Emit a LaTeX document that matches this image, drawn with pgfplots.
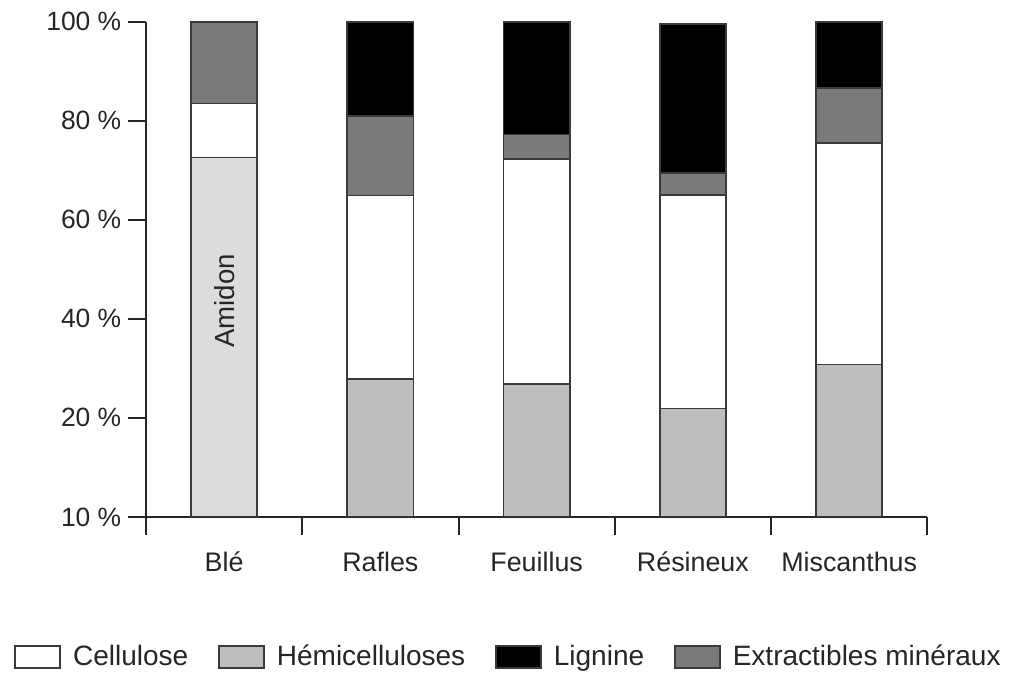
\documentclass[border=0pt]{standalone}
\usepackage{pgfplots}
\pgfplotsset{compat=1.18}
\usepackage{fontspec}
\setmainfont{Liberation Sans}
\definecolor{hemi}{HTML}{BEBEBE}
\definecolor{amidon}{HTML}{DCDCDC}
\definecolor{extr}{HTML}{7A7A7A}
\definecolor{edge}{HTML}{3A3A3A}
\pgfplotsset{boxlegend/.style={legend image code/.code={\draw[##1] (0pt,-5.5pt) rectangle (23pt,5.5pt);}}}
\begin{document}
\begin{tikzpicture}
\begin{axis}[
  name=ax,
  scale only axis, width=396pt, height=251pt,
  xmin=-0.5, xmax=4.5, ymin=0, ymax=100,
  ybar stacked, bar width=33.5pt,
  axis x line*=bottom, axis y line*=left,
  axis line style={line width=1pt, color=black!85},
  tick align=outside, major tick length=9pt,
  tick style={line width=1pt, color=black!85},
  xtick={-0.5,0.5,1.5,2.5,3.5,4.5},
  xticklabels={Blé,Rafles,Feuillus,Résineux,Miscanthus,{}},
  xticklabel style={xshift=39.6pt, yshift=-4pt, text height=11pt, text depth=3pt,
    font=\fontsize{13.6}{15}\selectfont, text=black!85},
  ytick={0,20,40,60,80,100},
  yticklabels={10 \%,20 \%,40 \%,60 \%,80 \%,100 \%},
  yticklabel style={font=\fontsize{13.4}{15}\selectfont, text=black!85},
  legend style={at={(0.465,-0.283)}, anchor=center, draw=none, fill=none,
    legend columns=4, font=\fontsize{14.2}{16}\selectfont, text=black!85,
    /tikz/every odd column/.append style={column sep=4pt},
    /tikz/every even column/.append style={column sep=13pt}},
  legend cell align=left,
]
\addplot[fill=amidon, draw=edge, line width=0.9pt, forget plot] coordinates {(0,72.6) (1,0) (2,0) (3,0) (4,0)};
\addplot[fill=hemi, draw=edge, line width=0.9pt, forget plot] coordinates {(0,0) (1,27.8) (2,26.9) (3,21.9) (4,30.8)};
\addplot[fill=white, draw=edge, line width=0.9pt, forget plot] coordinates {(0,10.9) (1,37.1) (2,45.3) (3,43.1) (4,44.7)};
\addplot[fill=extr, draw=edge, line width=0.9pt, forget plot] coordinates {(0,16.5) (1,16.1) (2,5.0) (3,4.5) (4,11.1)};
\addplot[fill=black, draw=edge, line width=0.9pt, forget plot] coordinates {(0,0) (1,19.0) (2,22.8) (3,30.0) (4,13.4)};
\addlegendimage{boxlegend, fill=white, draw=edge, line width=0.9pt}
\addlegendentry{Cellulose}
\addlegendimage{boxlegend, fill=hemi, draw=edge, line width=0.9pt}
\addlegendentry{Hémicelluloses}
\addlegendimage{boxlegend, fill=black, draw=edge, line width=0.9pt}
\addlegendentry{Lignine}
\addlegendimage{boxlegend, fill=extr, draw=edge, line width=0.9pt}
\addlegendentry{Extractibles minéraux}
\end{axis}
\node[rotate=90, font=\fontsize{14}{16}\selectfont, text=black!85] at ([xshift=39.6pt,yshift=109.4pt]ax.south west) {Amidon};
\path ([xshift=-74pt,yshift=262pt]ax.south west) rectangle ([xshift=432pt,yshift=-74.5pt]ax.south west);
\end{tikzpicture}
\end{document}
